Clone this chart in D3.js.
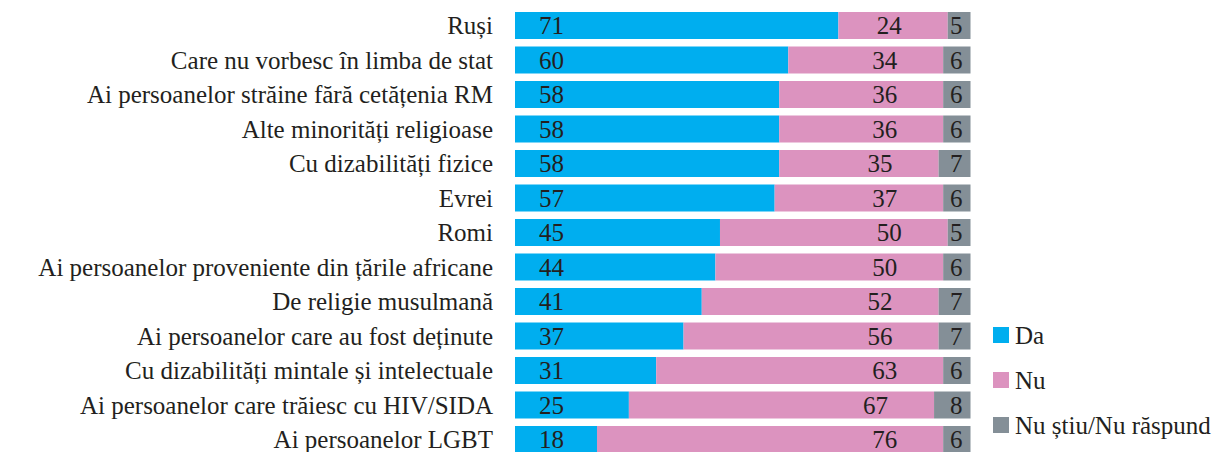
<!DOCTYPE html>
<html><head><meta charset="utf-8">
<script src="https://cdn.jsdelivr.net/npm/d3@7"></script>
</head><body style="margin:0">
<svg id="c" width="1232" height="452" style="font-family:'Times New Roman'"></svg>
<script>
const categories = ["Ruși","Care nu vorbesc în limba de stat","Ai persoanelor străine fără cetățenia RM","Alte minorități religioase","Cu dizabilități fizice","Evrei","Romi","Ai persoanelor proveniente din țările africane","De religie musulmană","Ai persoanelor care au fost deținute","Cu dizabilități mintale și intelectuale","Ai persoanelor care trăiesc cu HIV/SIDA","Ai persoanelor LGBT"];
const da = [71,60,58,58,58,57,45,44,41,37,31,25,18];
const nu = [24,34,36,36,35,37,50,50,52,56,63,67,76];
const ns = [5,6,6,6,7,6,5,6,7,7,6,8,6];
const seriesNames = ["Da","Nu","Nu știu/Nu răspund"];
const colors = ["#00aeef","#dc93bf","#848f97"];

const svg = d3.select("#c");
const x = d3.scaleLinear().domain([0,100]).range([515,970.5]);
const y = d3.scaleBand().domain(categories).range([12, 12 + 34.5*12 + 27]).paddingInner(7.5/34.5).paddingOuter(0);

function addText(parent, tx, ty, str, anchor){
  return parent.append("text").attr("x", tx).attr("y", ty)
    .attr("text-anchor", anchor || "start")
    .style("font-family", "'Times New Roman'")
    .style("font-size", "25px")
    .attr("fill", "#231f20")
    .text(String(str));
}

const data = categories.map((c,i)=>({c, vals:[da[i],nu[i],ns[i]]}));
data.forEach(d=>{
  const g = svg.append("g");
  let acc = 0;
  d.vals.forEach((v,k)=>{
    g.append("rect").attr("x", x(acc)).attr("y", y(d.c)).attr("width", x(acc+v)-x(acc)).attr("height", y.bandwidth()).attr("fill", colors[k]);
    acc += v;
  });
  const ty = y(d.c) + y.bandwidth()/2 + 8.5;
  addText(g, x(0)+24, ty, d.vals[0]);
  addText(g, x(d.vals[0]+d.vals[1])-46, ty, d.vals[1], "end");
  addText(g, x(100)-8, ty, d.vals[2], "end");
  addText(g, 493, ty, d.c, "end");
});

const leg = svg.append("g");
seriesNames.forEach((s,i)=>{
  const cy = 335 + i*45;
  leg.append("rect").attr("x",993).attr("y",cy-8).attr("width",16).attr("height",16).attr("fill",colors[i]);
  addText(leg, 1015, cy+8.5, s);
});
</script>
</body></html>
